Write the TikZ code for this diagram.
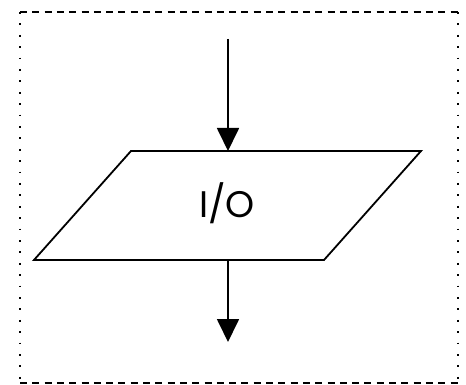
\documentclass[tikz,border=0pt]{standalone}
\usepackage{fontspec}
\setmainfont{Poppins}
\usetikzlibrary{arrows.meta}
\begin{document}
\begin{tikzpicture}[x=1pt,y=-1pt,
  frameside/.style={line width=1.6pt, dash pattern=on 1.8pt off 9.6pt},
  frametop/.style={line width=1.6pt, dash pattern=on 7pt off 5.3pt},
  shapeline/.style={line width=1.8pt, line join=miter},
  flow/.style={line width=1.8pt, -{Triangle[width=22pt,length=23pt]}},
  label/.style={font=\fontsize{37}{40}\selectfont, inner sep=0pt}]
\useasboundingbox (0,0) rectangle (466,385);
% frame
\draw[frametop] (20,12) -- (458,12);
\draw[frametop] (20,383) -- (458,383);
\draw[frameside] (20,12) -- (20,383);
\draw[frameside] (458,12) -- (458,383);
% parallelogram
\coordinate (p1) at (131,151);
\coordinate (p2) at (421,151);
\coordinate (p3) at (324,260);
\coordinate (p4) at (34,260);
\draw[shapeline] (p1) -- (p2) -- (p3) -- (p4) -- cycle;
\node[label] (io) at (227,203) {I/O};
\coordinate (iotop) at (228,151);
\coordinate (iobot) at (228,260);
\coordinate (in) at (228,39);
\coordinate (out) at (228,342);
\draw[flow] (in) -- (iotop);
\draw[flow] (iobot) -- (out);
\end{tikzpicture}
\end{document}
